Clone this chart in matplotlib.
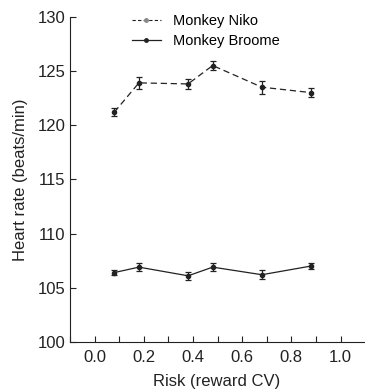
import matplotlib
matplotlib.use("Agg")
import matplotlib.pyplot as plt
from matplotlib.lines import Line2D
from matplotlib.ticker import MultipleLocator

plt.rcParams['font.family'] = ['Liberation Sans', 'DejaVu Sans']

# risk levels (reward CV)
risk = [0.08, 0.18, 0.38, 0.48, 0.68, 0.88]
niko = [121.2, 123.9, 123.8, 125.5, 123.5, 123.0]
niko_err = [0.35, 0.55, 0.5, 0.45, 0.6, 0.45]
broome = [106.4, 106.9, 106.1, 106.9, 106.2, 107.0]
broome_err = [0.2, 0.35, 0.35, 0.35, 0.4, 0.3]

c = '#222222'
fig = plt.figure(figsize=(3.65, 3.89), dpi=100)
ax = fig.add_axes([0.192, 0.121, 0.805, 0.836])

ax.errorbar(risk, niko, yerr=niko_err, color=c, ls=(0, (5, 3)), lw=0.9,
            marker='o', ms=3, capsize=2, elinewidth=0.9, capthick=0.9)
ax.errorbar(risk, broome, yerr=broome_err, color=c, ls='-', lw=0.9,
            marker='o', ms=3, capsize=2, elinewidth=0.9, capthick=0.9)

ax.set_xlim(-0.1, 1.095)
ax.set_ylim(100, 130)
ax.xaxis.set_minor_locator(MultipleLocator(0.1))
ax.yaxis.set_major_locator(MultipleLocator(5))
ax.set_xticks([0.0, 0.2, 0.4, 0.6, 0.8, 1.0])
ax.set_xticklabels(['0.0', '0.2', '0.4', '0.6', '0.8', '1.0'])
ax.tick_params(which='both', direction='in', length=4, width=0.8,
               labelsize=12, colors=c)
ax.tick_params(axis='x', pad=6)
ax.spines['top'].set_visible(False)
ax.spines['right'].set_visible(False)
for s in ['left', 'bottom']:
    ax.spines[s].set_linewidth(0.8)
    ax.spines[s].set_color(c)

ax.set_xlabel('Risk (reward CV)', fontsize=12, color=c, labelpad=6)
ax.set_ylabel('Heart rate (beats/min)', fontsize=12, color=c, labelpad=7)

handles = [
    Line2D([], [], color=c, ls=(0, (3, 2)), lw=0.8, marker='o', ms=2.5,
           mfc='#888888', mec='#888888'),
    Line2D([], [], color=c, ls='-', lw=0.9, marker='o', ms=2.5),
]
ax.legend(handles, ['Monkey Niko', 'Monkey Broome'], loc='upper left',
          bbox_to_anchor=(0.165, 1.048), frameon=False, fontsize=10.5,
          handlelength=2.0, handletextpad=0.8, labelspacing=0.4)

fig.savefig('out.png', dpi=100)
